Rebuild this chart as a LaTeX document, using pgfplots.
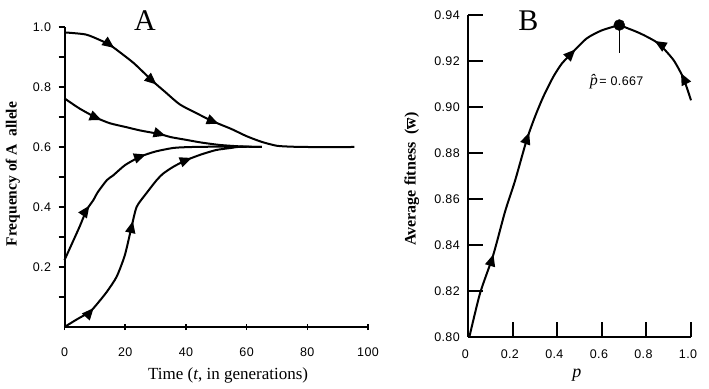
\documentclass[border=0pt]{standalone}
\usepackage{fontspec}
\setmainfont{Liberation Serif}
\newfontfamily\tickfont[LetterSpace=3]{Liberation Sans}
\usepackage{pgfplots}
\pgfplotsset{compat=1.18}
\usetikzlibrary{arrows.meta,decorations.markings}
\tikzset{
  arrowat/.style={postaction={decorate,decoration={markings,
     mark=at position #1 with {\arrow{Triangle[length=12pt,width=10pt]}}}}},
}
\pgfplotsset{
  curve/.style={black, line width=2pt, smooth, tension=0.4, no marks},
}
\newcommand\tf{\tickfont\fontsize{12.5}{14}\selectfont}
\begin{document}
\begin{tikzpicture}
\path[use as bounding box] (0,0) rectangle (709pt,388pt);
% ---------------- Panel A ----------------
\begin{axis}[
  at={(64.5pt,61pt)}, anchor=south west,
  width=303.5pt, height=300pt, scale only axis,
  xmin=0, xmax=100, ymin=0, ymax=1,
  axis x line*=bottom, axis y line*=left,
  axis line style={line width=2pt, black},
  clip=false,
  xtick={0,20,40,60,80,100},
  xticklabels={0,20,40,60,80,100},
  ytick={0.2,0.4,0.6,0.8,1.0},
  yticklabels={0.2,0.4,0.6,0.8,1.0},
  minor ytick={0.1,0.3,0.5,0.7,0.9},
  xtick align=center, ytick align=outside,
  major tick length=6pt, minor tick length=6pt,
  every tick/.style={line width=1.5pt, black},
  every minor tick/.style={line width=1.5pt, black},
  tick label style={font=\tf},
  xticklabel style={yshift=-14pt},
  yticklabel style={xshift=-4pt},
  xlabel={Time (\textit{t}, in generations)},
  xlabel style={at={(axis description cs:0.539,-0.16)}, anchor=center,
     font=\fontsize{17}{19}\selectfont},
  ylabel={\textbf{Frequency of A\ \ allele}},
  ylabel style={at={(axis description cs:-0.17,0.51)}, anchor=center, rotate=0,
     font=\fontsize{15.5}{17}\selectfont},
  title={A},
  title style={at={(axis description cs:0.265,1.0)}, anchor=center,
     font=\fontsize{30}{32}\selectfont},
]
\addplot[curve, arrowat=53pt, arrowat=109pt, arrowat=183pt] coordinates {
 (0,0.982) (7,0.975) (12,0.955) (15,0.94) (19,0.91) (23,0.878) (29,0.82)
 (33,0.785) (38,0.742) (44,0.71) (49,0.685) (55,0.66) (60,0.636) (65,0.617)
 (70,0.604) (75,0.601) (80,0.600) (95.5,0.600)};
\addplot[curve, arrowat=43pt, arrowat=109pt] coordinates {
 (0,0.762) (5,0.728) (10.6,0.697) (15,0.679) (20,0.667) (25,0.655)
 (31.4,0.643) (35,0.633) (40,0.624) (45,0.615) (51,0.607) (58,0.602) (65,0.600)};
\addplot[curve, arrowat=60pt, arrowat=138pt] coordinates {
 (0,0.223) (3,0.29) (5,0.335) (7.3,0.39) (9.5,0.423) (11,0.45) (14,0.49)
 (16,0.505) (20,0.54) (25,0.568) (30,0.585) (36,0.597) (42,0.600) (50,0.601) (60,0.600)};
\addplot[curve, arrowat=35pt, arrowat=132pt, arrowat=222pt] coordinates {
 (0,0) (4,0.025) (8.4,0.051) (11,0.08) (14,0.118) (17.2,0.168) (19.9,0.24)
 (22.1,0.334) (23.8,0.401) (27,0.446) (30.4,0.49) (32.6,0.512) (36,0.535)
 (40.3,0.557) (45,0.575) (50,0.59) (55,0.597) (58,0.601) (65,0.600)};
\end{axis}
% ---------------- Panel B ----------------
\begin{axis}[
  at={(468.3pt,51.3pt)}, anchor=south west,
  width=222.7pt, height=321.3pt, scale only axis,
  xmin=0, xmax=1, ymin=0.80, ymax=0.94,
  axis x line*=bottom, axis y line*=left,
  axis line style={line width=2pt, black},
  clip=false,
  xtick={0,0.2,0.4,0.6,0.8,1.0},
  xticklabels={0,0.2,0.4,0.6,0.8,1.0},
  ytick={0.80,0.82,0.84,0.86,0.88,0.90,0.92,0.94},
  yticklabels={0.80,0.82,0.84,0.86,0.88,0.90,0.92,0.94},
  tick align=inside,
  major tick length=15pt,
  every tick/.style={line width=2pt, black},
  tick label style={font=\tf},
  xticklabel style={yshift=-10pt, xshift=-3pt},
  yticklabel style={xshift=-5pt},
  xlabel={\textit{p}},
  xlabel style={at={(axis description cs:0.487,-0.12)}, anchor=center,
     font=\fontsize{18}{20}\selectfont},
  ylabel={\textbf{Average fitness\ \ (}$\overline{\mbox{\textbf{w}}}$\textbf{)}},
  ylabel style={at={(axis description cs:-0.254,0.491)}, anchor=center, rotate=0,
     font=\fontsize{16}{18}\selectfont},
  title={B},
  title style={at={(axis description cs:0.27,0.966)}, anchor=center,
     font=\fontsize{30}{32}\selectfont},
]
\addplot[curve, arrowat=86pt, arrowat=213pt, arrowat=309pt] coordinates {
 (0.005,0.800) (0.053,0.819) (0.112,0.8356) (0.165,0.8545) (0.21,0.868)
 (0.262,0.8857) (0.30,0.896) (0.337,0.9046) (0.382,0.9133) (0.42,0.919)
 (0.464,0.9235) (0.532,0.930) (0.60,0.9335) (0.678,0.9358)};
\addplot[curve, arrowat=29pt, arrowat=71pt] coordinates {
 (1.0,0.903) (0.966,0.9126) (0.921,0.9206) (0.853,0.9278) (0.771,0.9322) (0.678,0.9358)};
\addplot[black, line width=1.5pt, no marks] coordinates {(0.678,0.9358) (0.678,0.9235)};
\addplot[black, only marks, mark=*, mark size=5.5pt] coordinates {(0.678,0.9358)};
\node[anchor=center, inner sep=1pt] at (axis cs:0.666,0.9110)
  {{\rmfamily\itshape\fontsize{16}{17}\selectfont\^p}\,{\tf= 0.667}};
\end{axis}
\end{tikzpicture}
\end{document}
